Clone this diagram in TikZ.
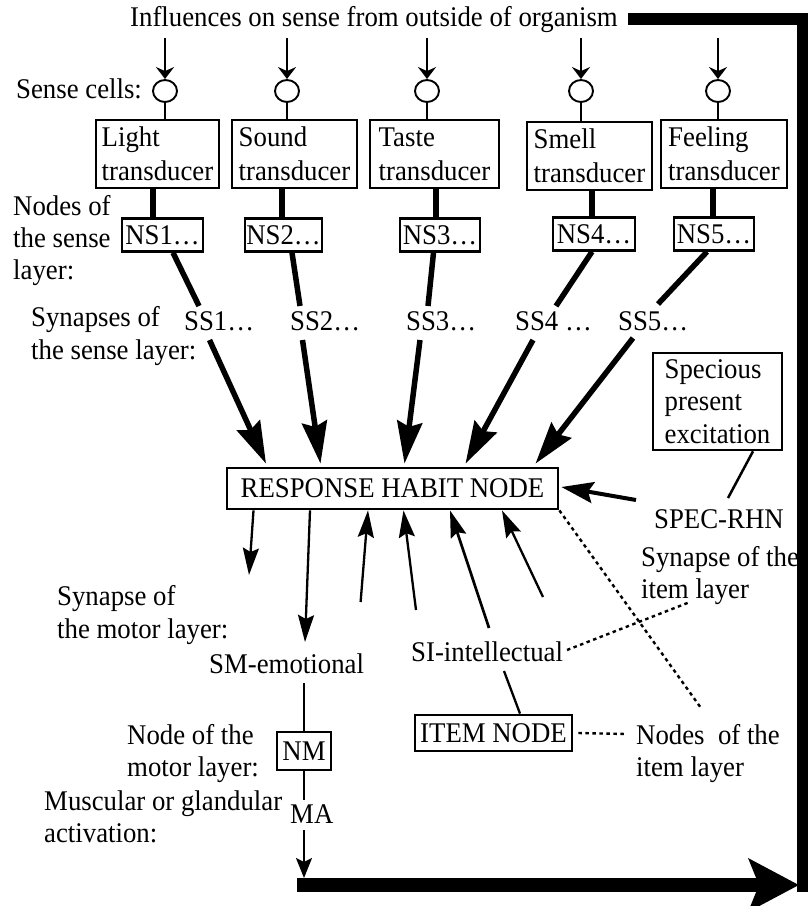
\documentclass[tikz,border=0pt]{standalone}
\usepackage{fontspec}
\setmainfont{Liberation Serif}[FakeStretch=0.94]
\usetikzlibrary{arrows.meta,shapes.geometric}

\begin{document}
\begin{tikzpicture}[x=1pt,y=-1pt,
  txt/.style={anchor=base west,inner sep=0pt,font=\fontsize{28.5}{34}\selectfont},
  box/.style={draw,line width=2.6pt,inner sep=0pt,font=\fontsize{28.5}{34}\selectfont},
  tbox/.style={box,align=left,minimum height=68pt},
  nsbox/.style={box,line width=2.4pt,minimum height=33pt},
  cell/.style={draw,ellipse,line width=1.9pt,minimum width=24pt,minimum height=22pt,inner sep=0pt},
  feed/.style={line width=1.6pt,-{Stealth[length=12pt,width=18pt,inset=4pt]}},
  stem/.style={line width=1.6pt},
  heavy/.style={line width=5.5pt},
  heavyarrow/.style={line width=5.5pt,-{Stealth[length=42pt,width=25pt,inset=5pt]}},
  thinarrow/.style={line width=2.3pt,-{Stealth[length=27pt,width=16pt,inset=4pt]}},
  specarrow/.style={line width=4pt,-{Stealth[length=32pt,width=21pt,inset=5pt]}},
  link/.style={line width=2.3pt},
  pointer/.style={line width=2.4pt,dash pattern=on 3.5pt off 3.5pt},
  rail/.style={line width=11.5pt,line join=miter},
  returnarrow/.style={line width=14pt,-{Stealth[length=50pt,width=52pt,inset=10pt]}},
  motorarrow/.style={line width=2pt,-{Stealth[length=20pt,width=16pt,inset=4pt]}}
]
\useasboundingbox (0,0) rectangle (811,906);

% ---- input from outside ----
\node[txt] (title) at (130,26) {Influences on sense from outside of organism};
\node[txt] (cellslbl) at (16,98) {Sense cells:};

\foreach \i/\x in {1/165,2/287,3/427,4/581,5/718}{
  \coordinate (f\i) at (\x,38);
  \node[cell] (c\i) at (\x,91) {};
}

% ---- transducers ----
\node[tbox,minimum width=123pt] (t1) at (157.5,154) {Light\\transducer};
\node[tbox,minimum width=125pt] (t2) at (294.5,154) {Sound\\transducer};
\node[tbox,minimum width=129pt] (t3) at (434.5,154) {Taste\\transducer};
\node[tbox,minimum width=125pt] (t4) at (589.5,156) {Smell\\transducer};
\node[tbox,minimum width=126pt] (t5) at (724,154) {Feeling\\transducer};

\foreach \i in {1,...,5}{
  \draw[feed] (f\i) -- (c\i.north);
  \draw[stem] (c\i.south) -- (c\i.south |- t\i.north);
}

% ---- sense layer nodes ----
\node[txt] (nl1) at (13,215) {Nodes of};
\node[txt] (nl2) at (13,247) {the sense};
\node[txt] (nl3) at (13,279) {layer:};

\node[nsbox,minimum width=81pt] (ns1) at (162.5,235) {NS1…};
\node[nsbox,minimum width=77pt] (ns2) at (283.5,235) {NS2…};
\node[nsbox,minimum width=80pt] (ns3) at (440,235) {NS3…};
\node[nsbox,minimum width=82pt] (ns4) at (594,234) {NS4…};
\node[nsbox,minimum width=80pt] (ns5) at (714,234) {NS5…};

\draw[heavy] ([xshift=-4.5pt]t1.south) -- ([xshift=-9.5pt]ns1.north);
\draw[heavy] ([xshift=-12.5pt]t2.south) -- ([xshift=-1.5pt]ns2.north);
\draw[heavy] ([xshift=1.5pt]t3.south) -- ([xshift=-4pt]ns3.north);
\draw[heavy] ([xshift=2.5pt]t4.south) -- ([xshift=-2pt]ns4.north);
\draw[heavy] ([xshift=-11pt]t5.south) -- ([xshift=-1pt]ns5.north);

% ---- sense layer synapses ----
\node[txt] (sl1) at (31,326) {Synapses of};
\node[txt] (sl2) at (31,359) {the sense layer:};

\node[txt] (ss1) at (184,330) {SS1…};
\node[txt] (ss2) at (290,330) {SS2…};
\node[txt] (ss3) at (406,330) {SS3…};
\node[txt] (ss4) at (515,330) {SS4 …};
\node[txt] (ss5) at (618,330) {SS5…};

\draw[heavy] ([xshift=10.5pt]ns1.south) -- ([xshift=15pt,yshift=24pt]ss1.base west);
\draw[heavy] ([xshift=8.5pt]ns2.south) -- ([xshift=10pt,yshift=24pt]ss2.base west);
\draw[heavy] ([xshift=-6.5pt]ns3.south) -- ([xshift=22pt,yshift=24pt]ss3.base west);
\draw[heavy] ([xshift=-2pt]ns4.south) -- ([xshift=41pt,yshift=24pt]ss4.base west);
\draw[heavy] ([xshift=-7pt]ns5.south) -- ([xshift=40pt,yshift=26pt]ss5.base west);

% ---- response habit node ----
\node[box,line width=2.8pt,minimum width=331pt,minimum height=41pt] (rhn) at (392.5,488.5) {RESPONSE HABIT NODE};

\draw[heavyarrow] ([xshift=25.5pt,yshift=-10pt]ss1.base west) -- ([xshift=-126.5pt,yshift=3pt]rhn.north);
\draw[heavyarrow] ([xshift=12.5pt,yshift=-10pt]ss2.base west) -- ([xshift=-72pt,yshift=3pt]rhn.north);
\draw[heavyarrow] ([xshift=14pt,yshift=-10pt]ss3.base west) -- ([xshift=12pt,yshift=3pt]rhn.north);
\draw[heavyarrow] ([xshift=18pt,yshift=-10pt]ss4.base west) -- ([xshift=73pt,yshift=3pt]rhn.north);
\draw[heavyarrow] ([xshift=15pt,yshift=-8pt]ss5.base west) -- ([xshift=143pt,yshift=3pt]rhn.north);

% ---- specious present ----
\node[box,align=left,font=\fontsize{28.5}{32.5}\selectfont,minimum width=129pt,minimum height=97pt] (sp) at (717.5,401.5) {Specious\\present\\excitation};
\node[txt] (srhn) at (654,528) {SPEC-RHN};
\draw[line width=2.5pt] ([xshift=35.5pt]sp.south) -- ([xshift=74pt,yshift=30pt]srhn.base west);
\draw[specarrow] ([xshift=-18pt,yshift=28pt]srhn.base west) -- ([xshift=2pt,yshift=1.5pt]rhn.east);

% ---- item layer ----
\node[txt] (sil1) at (641,566) {Synapse of the};
\node[txt] (sil2) at (641,598) {item layer};
\node[txt] (si) at (411,661) {SI-intellectual};
\node[box,line width=2.8pt,minimum width=157pt,minimum height=36pt] (item) at (493.5,733) {ITEM NODE};
\node[txt] (nil1) at (636,744) {Nodes~ of the};
\node[txt] (nil2) at (636,776) {item layer};

\coordinate (u1) at (360.6,602);
\coordinate (u2) at (416,610);
\coordinate (u4) at (543,597);
\draw[thinarrow] (u1) -- ([xshift=-24.5pt]rhn.south);
\draw[thinarrow] (u2) -- ([xshift=11pt]rhn.south);
\draw[thinarrow,line width=2.7pt] ([xshift=78pt,yshift=33pt]si.base west) -- ([xshift=57.5pt]rhn.south);
\draw[thinarrow] (u4) -- ([xshift=109.5pt]rhn.south);

\draw[link] ([xshift=93pt,yshift=-10pt]si.base west) -- ([xshift=26.5pt]item.north);
\draw[pointer] (rhn.south east) -- ([xshift=65pt,yshift=36pt]nil1.base west);
\draw[pointer] ([xshift=156pt,yshift=11pt]si.base west) -- ([xshift=49pt,yshift=-4pt]sil2.base west);
\draw[pointer] ([xshift=5pt]item.east) -- ([xshift=-10pt,yshift=10pt]nil1.base west);

% ---- motor layer ----
\node[txt] (sml1) at (57,605) {Synapse of};
\node[txt] (sml2) at (57,638) {the motor layer:};
\node[txt] (sm) at (209,673) {SM-emotional};
\node[txt] (nml1) at (127,744) {Node of the};
\node[txt] (nml2) at (127,776) {motor layer:};
\node[box,line width=2.8pt,minimum width=54pt,minimum height=38pt] (nm) at (304,751) {NM};
\node[txt] (mal1) at (44,810) {Muscular or glandular};
\node[txt] (mal2) at (44,842) {activation:};
\node[txt] (ma) at (290,823) {MA};

\coordinate (d1) at (249,575);
\draw[thinarrow] ([xshift=-139pt]rhn.south) -- (d1);
\draw[thinarrow] ([xshift=-82.5pt]rhn.south) -- ([xshift=96pt,yshift=31pt]sm.base west);

\draw[link,line width=2pt] ([xshift=95pt,yshift=-10pt]sm.base west) -- (nm.north);
\draw[link,line width=2pt] (nm.south) -- ([xshift=14pt,yshift=23pt]ma.base west);

% ---- return path to the outside ----
\coordinate (barstart) at (297,885);
\coordinate (barend) at (799,885);
\coordinate (railend) at (802.5,892);
\draw[motorarrow] ([xshift=14pt,yshift=-7pt]ma.base west) -- ([xshift=7pt,yshift=7pt]barstart);
\draw[returnarrow] (barstart) -- (barend);
\draw[rail] ([xshift=10pt]title.east) -| (railend);
\end{tikzpicture}
\end{document}
